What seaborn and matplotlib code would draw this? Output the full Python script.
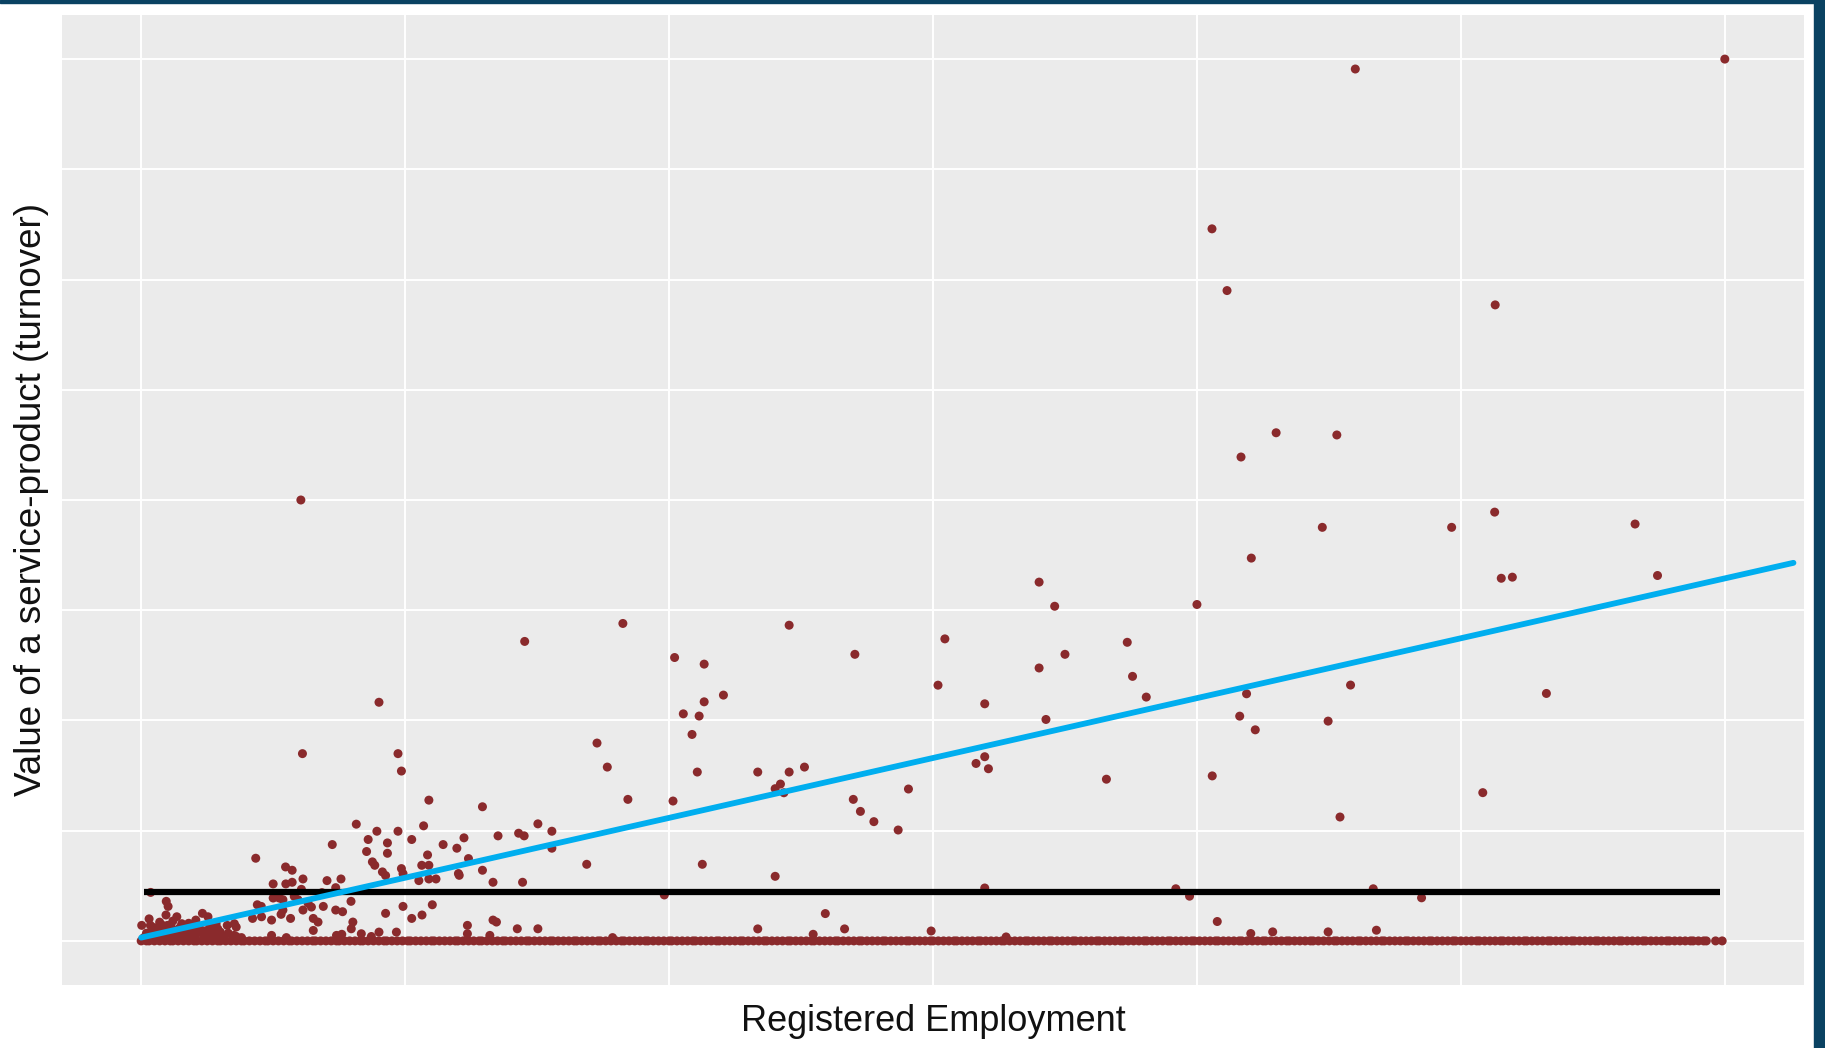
import matplotlib
matplotlib.use('Agg')
import matplotlib.pyplot as plt
from matplotlib.patches import Rectangle
import seaborn as sns
import pandas as pd

# firms with a non-zero turnover: (registered employment, turnover), axis units
firms = [
    (6.00, 8.00), (4.60, 7.91), (4.057, 6.46), (4.114, 5.90), (5.13, 5.77), (0.605, 4.00),
    (4.167, 4.39), (4.30, 4.61), (4.53, 4.59), (4.475, 3.752), (4.965, 3.752), (5.128, 3.89),
    (5.66, 3.782), (4.206, 3.473), (5.153, 3.29), (5.195, 3.30), (5.745, 3.315), (4.00, 3.052),
    (5.324, 2.245), (5.083, 1.345),
    (3.402, 3.255), (3.461, 3.036), (3.736, 2.709), (3.50, 2.60), (3.402, 2.476), (3.756, 2.40),
    (3.808, 2.212), (3.428, 2.009), (4.188, 2.242), (4.582, 2.321), (4.162, 2.039), (4.221, 1.915),
    (4.497, 1.994), (3.657, 1.467), (4.058, 1.497), (4.542, 1.124), (3.92, 0.473), (3.972, 0.406),
    (4.668, 0.473), (4.851, 0.391), (4.077, 0.176), (4.204, 0.067), (4.287, 0.082), (4.497, 0.082),
    (4.68, 0.097), (3.277, 0.036),
    (1.825, 2.88), (2.455, 2.864), (2.021, 2.571), (2.133, 2.511), (3.045, 2.74), (2.704, 2.60),
    (2.206, 2.23), (2.133, 2.169), (3.019, 2.32), (3.196, 2.151), (2.054, 2.06), (2.114, 2.04),
    (2.087, 1.873), (1.727, 1.795), (1.766, 1.577), (2.107, 1.532), (2.336, 1.532), (2.455, 1.532),
    (2.513, 1.577), (2.422, 1.423), (2.402, 1.381), (2.435, 1.344), (3.196, 1.671), (3.163, 1.61),
    (3.21, 1.562), (2.907, 1.378), (1.844, 1.284), (2.015, 1.269), (2.698, 1.284), (2.725, 1.175),
    (2.776, 1.082), (2.868, 1.006), (1.688, 0.695), (2.126, 0.695), (2.402, 0.586), (1.982, 0.417),
    (3.196, 0.48), (2.592, 0.248), (2.336, 0.109), (2.665, 0.109), (2.993, 0.09), (2.546, 0.06),
    (1.786, 0.03), (1.453, 2.717),
    (0.901, 2.165), (0.611, 1.699), (0.973, 1.699), (0.986, 1.541), (1.09, 1.277), (1.293, 1.217),
    (0.815, 1.059), (1.07, 1.044), (0.893, 0.995), (0.973, 0.995), (1.503, 1.062), (1.556, 0.995),
    (1.352, 0.953), (1.43, 0.977), (1.451, 0.953), (1.223, 0.935), (0.86, 0.92), (1.025, 0.92),
    (0.933, 0.889), (0.724, 0.874), (1.144, 0.874), (1.196, 0.841), (1.556, 0.841), (0.854, 0.811),
    (0.933, 0.795), (1.085, 0.78), (1.24, 0.747), (0.434, 0.75), (0.876, 0.717), (0.885, 0.686),
    (1.063, 0.686), (1.09, 0.686), (0.547, 0.671), (0.572, 0.641), (0.986, 0.656), (0.992, 0.611),
    (1.293, 0.641), (1.202, 0.611), (1.205, 0.595), (0.914, 0.626), (0.926, 0.593), (0.613, 0.562),
    (0.757, 0.562), (0.704, 0.547), (0.50, 0.517), (0.548, 0.517), (0.572, 0.532), (1.052, 0.547),
    (1.09, 0.562), (1.117, 0.562), (1.333, 0.532), (1.445, 0.532), (0.737, 0.483), (0.607, 0.468),
    (0.685, 0.438), (0.50, 0.389), (0.523, 0.389), (0.537, 0.374), (0.58, 0.404), (0.594, 0.374),
    (0.44, 0.328), (0.455, 0.313), (0.632, 0.344), (0.645, 0.307), (0.69, 0.313), (0.795, 0.359),
    (1.103, 0.328), (0.992, 0.313), (0.095, 0.359), (0.102, 0.313), (0.537, 0.28), (0.53, 0.241),
    (0.613, 0.28), (0.737, 0.28), (0.763, 0.265), (0.926, 0.25), (0.456, 0.219), (0.422, 0.204),
    (0.566, 0.204), (0.094, 0.235), (0.135, 0.219), (0.232, 0.25), (0.253, 0.219), (1.025, 0.204),
    (1.064, 0.235), (1.333, 0.189), (1.346, 0.171), (0.494, 0.189), (0.652, 0.204), (0.67, 0.171),
    (0.207, 0.189), (0.154, 0.156), (0.002, 0.141), (0.035, 0.141), (0.081, 0.141), (0.10, 0.141),
    (0.113, 0.126), (0.284, 0.156), (0.326, 0.141), (0.353, 0.156), (0.36, 0.126), (0.29, 0.11),
    (0.802, 0.171), (0.796, 0.11), (1.236, 0.141), (1.236, 0.065), (1.425, 0.11), (1.503, 0.11),
    (0.652, 0.095), (0.901, 0.08), (0.967, 0.08), (0.834, 0.065), (0.872, 0.04), (1.321, 0.05),
    (0.036, 0.44), (0.494, 0.05), (0.55, 0.03), (0.74, 0.05), (0.76, 0.06), (0.36, 0.04),
    (0.01, 0.03), (0.02, 0.07), (0.035, 0.05), (0.04, 0.09), (0.05, 0.02), (0.062, 0.06),
    (0.07, 0.10), (0.083, 0.04), (0.09, 0.08), (0.105, 0.05), (0.11, 0.09), (0.124, 0.03),
    (0.13, 0.07), (0.142, 0.11), (0.15, 0.05), (0.163, 0.09), (0.17, 0.03), (0.184, 0.06),
    (0.19, 0.10), (0.205, 0.04), (0.21, 0.08), (0.22, 0.12), (0.236, 0.05), (0.24, 0.09),
    (0.252, 0.03), (0.265, 0.07), (0.27, 0.11), (0.283, 0.05), (0.30, 0.08), (0.314, 0.04),
    (0.33, 0.07), (0.352, 0.05), (0.38, 0.03), (0.07, 0.17), (0.12, 0.18), (0.18, 0.16),
    (0.03, 0.20), (0.26, 0.13), (0.15, 0.13), (0.05, 0.12),
]

# firms reporting zero turnover (registered employment)
zero_emp = [
    0.00, 0.02, 0.03, 0.05, 0.07, 0.09, 0.11, 0.12, 0.14, 0.16, 0.18, 0.20, 0.21, 0.23, 0.25, 0.27,
    0.29, 0.30, 0.32, 0.34, 0.36, 0.38, 0.39, 0.41, 0.43, 0.45, 0.47, 0.48, 0.50, 0.52, 0.54, 0.56,
    0.57, 0.59, 0.61, 0.63, 0.65, 0.66, 0.68, 0.70, 0.72, 0.74, 0.75, 0.77, 0.79, 0.81, 0.83, 0.84,
    0.86, 0.88, 0.90, 0.92, 0.93, 0.95, 0.97, 0.99,
    1.01, 1.02, 1.04, 1.06, 1.08, 1.10, 1.11, 1.13, 1.15, 1.17, 1.19, 1.20, 1.22, 1.24, 1.26, 1.28,
    1.29, 1.31, 1.33, 1.35, 1.37, 1.38, 1.40, 1.42, 1.44, 1.46, 1.47, 1.49, 1.51, 1.53, 1.55, 1.56,
    1.58, 1.60, 1.62, 1.64, 1.65, 1.67, 1.69, 1.71, 1.73, 1.74, 1.76, 1.78, 1.80, 1.82, 1.83, 1.85,
    1.87, 1.89, 1.91, 1.92, 1.94, 1.96, 1.98,
    2.00, 2.01, 2.03, 2.05, 2.07, 2.09, 2.10, 2.12, 2.14, 2.16, 2.18, 2.19, 2.21, 2.23, 2.25, 2.27,
    2.28, 2.30, 2.32, 2.34, 2.36, 2.37, 2.39, 2.41, 2.43, 2.45, 2.46, 2.48, 2.50, 2.52, 2.54, 2.55,
    2.57, 2.59, 2.61, 2.63, 2.64, 2.66, 2.68, 2.70, 2.72, 2.73, 2.75, 2.77, 2.79, 2.81, 2.82, 2.84,
    2.86, 2.88, 2.90, 2.91, 2.93, 2.95, 2.97, 2.99,
    3.00, 3.02, 3.04, 3.06, 3.08, 3.09, 3.11, 3.13, 3.15, 3.17, 3.18, 3.20, 3.22, 3.24, 3.26, 3.27,
    3.29, 3.31, 3.33, 3.35, 3.36, 3.38, 3.40, 3.42, 3.44, 3.45, 3.47, 3.49, 3.51, 3.53, 3.54, 3.56,
    3.58, 3.60, 3.62, 3.63, 3.65, 3.67, 3.69, 3.71, 3.72, 3.74, 3.76, 3.78, 3.80, 3.81, 3.83, 3.85,
    3.87, 3.89, 3.90, 3.92, 3.94, 3.96, 3.98, 3.99,
    4.01, 4.03, 4.05, 4.07, 4.08, 4.10, 4.12, 4.14, 4.16, 4.17, 4.19, 4.21, 4.23, 4.25, 4.26, 4.28,
    4.30, 4.32, 4.34, 4.35, 4.37, 4.39, 4.41, 4.43, 4.44, 4.46, 4.48, 4.50, 4.52, 4.53, 4.55, 4.57,
    4.59, 4.61, 4.62, 4.64, 4.66, 4.68, 4.70, 4.71, 4.73, 4.75, 4.77, 4.79, 4.80, 4.82, 4.84, 4.86,
    4.88, 4.89, 4.91, 4.93, 4.95, 4.97, 4.98,
    5.00, 5.02, 5.04, 5.06, 5.07, 5.09, 5.11, 5.13, 5.15, 5.16, 5.18, 5.20, 5.22, 5.24, 5.25, 5.27,
    5.29, 5.31, 5.33, 5.34, 5.36, 5.38, 5.40, 5.42, 5.43, 5.45, 5.47, 5.49, 5.51, 5.52, 5.54, 5.56,
    5.58, 5.60, 5.61, 5.63, 5.65, 5.67, 5.69, 5.70, 5.72, 5.74, 5.76, 5.78, 5.79, 5.81, 5.83, 5.85,
    5.87, 5.88, 5.90, 5.92, 5.93, 5.965, 5.99,
]

# fitted regression line and mean turnover line
fit_emp = [0.0, 6.26]
fit_turnover = [0.03, 3.43]
mean_turnover = 0.44
mean_span = [0.01, 5.98]

x_title = 'Registered Employment'
y_title = 'Value of a service-product (turnover)'

point_color = '#8A2A2C'
fit_color = '#00AEEF'
frame_color = '#0A4262'

df = pd.DataFrame(firms, columns=['employment', 'turnover'])
df = pd.concat([df, pd.DataFrame({'employment': zero_emp, 'turnover': 0.0})],
               ignore_index=True)

sns.set_theme(style='darkgrid', rc={
    'axes.facecolor': '#EBEBEB',
    'grid.color': 'white',
    'grid.linewidth': 1.4,
})
plt.rcParams['font.family'] = ['Liberation Sans', 'DejaVu Sans']

fig = plt.figure(figsize=(18.25, 10.48), dpi=100)
fig.patch.set_facecolor('white')
ax = fig.add_axes([62 / 1825, 63 / 1048, 1742 / 1825, 970 / 1048])

sns.scatterplot(data=df, x='employment', y='turnover', color=point_color,
                s=42, edgecolor='none', linewidth=0, legend=False, ax=ax, zorder=2)
ax.hlines(mean_turnover, mean_span[0], mean_span[1], color='black', lw=4.5, zorder=3)
sns.lineplot(x=fit_emp, y=fit_turnover, color=fit_color, lw=4.2, ax=ax, zorder=4)

ax.set_xlim(-0.3, 6.3)
ax.set_ylim(-0.4, 8.4)
ax.set_xticks(range(7))
ax.set_yticks(range(9))
ax.tick_params(length=0, labelbottom=False, labelleft=False)
for s in ax.spines.values():
    s.set_visible(False)

ax.set_xlabel(x_title, fontsize=26, color='#111111', labelpad=14)
ax.set_ylabel(y_title, fontsize=26.5, color='#111111', labelpad=9)

# dark frame along the top and right edge of the slide
fig.patches.append(Rectangle((0, 1 - 3 / 1048), 1, 3 / 1048,
                             transform=fig.transFigure, color=frame_color, zorder=10))
fig.patches.append(Rectangle((1814 / 1825, 0), 11 / 1825, 1,
                             transform=fig.transFigure, color=frame_color, zorder=10))

fig.savefig('out.png', dpi=100)
